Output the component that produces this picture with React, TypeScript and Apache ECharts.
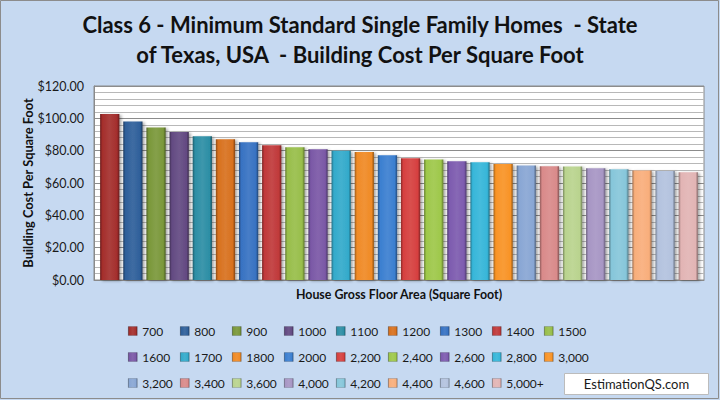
import React, { useEffect, useRef } from "react";
import * as echarts from "echarts";

const categories = [
  "700", "800", "900", "1000", "1100", "1200", "1300", "1400", "1500",
  "1600", "1700", "1800", "2000", "2,200", "2,400", "2,600", "2,800", "3,000",
  "3,200", "3,400", "3,600", "4,000", "4,200", "4,400", "4,600", "5,000+",
];

const costs = [
  102.7, 98.1, 94.4, 91.5, 88.9, 87.0, 85.2, 83.3, 82.1,
  80.8, 80.0, 79.2, 77.1, 75.3, 74.6, 73.4, 72.8, 71.8,
  70.9, 70.3, 70.2, 69.1, 68.5, 67.8, 67.4, 66.6,
];

const colors = [
  "#A42E2C", "#2E5F9A", "#7A983A", "#634A82", "#2C8EA5", "#D8711E", "#3772C2", "#C0393A", "#98BE4A",
  "#7A58A6", "#33AACB", "#F08A25", "#3B7FD0", "#D6403F", "#9EC84A", "#7D5BAF", "#36B6D9", "#F99326",
  "#88A6D4", "#D98A8A", "#B9D38E", "#A796C4", "#86C6DA", "#F8AE7B", "#B3C2DE", "#E2B4B4",
];

const yTicks = [0, 20, 40, 60, 80, 100, 120];

const titleText =
  "Class 6 - Minimum Standard Single Family Homes  - State\nof Texas, USA  - Building Cost Per Square Foot";
const yName = "Building Cost Per Square Foot";
const xName = "House Gross Floor Area (Square Foot)";
const watermark = "EstimationQS.com";

function shade(hex: string, f: number): string {
  const n = parseInt(hex.slice(1), 16);
  let r = (n >> 16) & 255, g = (n >> 8) & 255, b = n & 255;
  if (f < 0) {
    r = Math.round(r * (1 + f)); g = Math.round(g * (1 + f)); b = Math.round(b * (1 + f));
  } else {
    r = Math.round(r + (255 - r) * f); g = Math.round(g + (255 - g) * f); b = Math.round(b + (255 - b) * f);
  }
  return `rgb(${r},${g},${b})`;
}

function barColor(hex: string) {
  return new echarts.graphic.LinearGradient(0, 0, 1, 0, [
    { offset: 0, color: shade(hex, -0.35) },
    { offset: 0.12, color: hex },
    { offset: 0.5, color: shade(hex, 0.08) },
    { offset: 0.88, color: hex },
    { offset: 1, color: shade(hex, -0.4) },
  ]);
}

const FONT = "Lato, 'Open Sans', sans-serif";

export default function App() {
  const ref = useRef<HTMLDivElement>(null);
  useEffect(() => {
    if (!ref.current) return;
    const chart = echarts.init(ref.current, undefined, { renderer: "svg" });

    const series = categories.map((name, i) => ({
      name,
      type: "bar",
      data: [costs[i]],
      barGap: "20%",
      barCategoryGap: "2%",
      itemStyle: {
        color: barColor(colors[i]),
        shadowBlur: 3,
        shadowOffsetX: 2,
        shadowOffsetY: 1,
        shadowColor: "rgba(0,0,0,0.35)",
      },
    }));

    const legends = categories.map((name, i) => ({
      data: [name],
      left: 128 + (i % 9) * 52,
      top: 325 + Math.floor(i / 9) * 26,
      padding: 0,
      itemWidth: 9,
      itemHeight: 9,
      icon: "rect",
      itemStyle: { borderColor: "rgba(0,0,0,0.3)", borderWidth: 0.5 },
      textStyle: { fontFamily: FONT, fontSize: 12, color: "#1a1a1a" },
    }));

    chart.setOption({
      animation: false,
      backgroundColor: "#C6D9F1",
      legend: legends,
      grid: {
        left: 94,
        right: 16,
        top: 86,
        bottom: 120,
        show: true,
        backgroundColor: "#ffffff",
        borderColor: "#8a8a8a",
        borderWidth: 1,
      },
      xAxis: {
        type: "category",
        data: [""],
        axisLine: { lineStyle: { color: "#8a8a8a" } },
        axisTick: { show: false },
        axisLabel: { show: false },
        name: xName,
        nameLocation: "middle",
        nameGap: 8,
        nameTextStyle: {
          fontFamily: FONT,
          fontWeight: "bold",
          fontSize: 12.4,
          color: "#111",
          verticalAlign: "top",
        },
      },
      yAxis: {
        type: "value",
        min: yTicks[0],
        max: yTicks[yTicks.length - 1],
        interval: 20,
        axisLine: { show: true, lineStyle: { color: "#8a8a8a" } },
        axisTick: { show: false },
        axisLabel: {
          formatter: (v: number) => "$" + v.toFixed(2),
          fontFamily: FONT,
          fontSize: 12.5,
          color: "#1a1a1a",
          margin: 10,
        },
        splitLine: { show: true, lineStyle: { color: "#8c8c8c", width: 1 } },
        minorTick: { show: false, splitNumber: 5 },
        minorSplitLine: { show: true, lineStyle: { color: "#b8b8b8", width: 1 } },
        name: yName,
        nameLocation: "middle",
        nameRotate: 90,
        nameGap: 60,
        nameMoveOverlap: false,
        nameTextStyle: {
          fontFamily: FONT,
          fontWeight: "bold",
          fontSize: 12.8,
          color: "#111",
        },
      },
      series,
      graphic: [
        {
          type: "rect",
          shape: { x: 0.5, y: 0.5, width: 718, height: 398 },
          style: { fill: "none", stroke: "#8c8c8c", lineWidth: 1 },
          silent: true,
        },
        {
          type: "text",
          x: 360,
          y: 9.5,
          style: {
            text: titleText,
            fontFamily: FONT,
            fontWeight: "bold",
            fontSize: 22,
            lineHeight: 30,
            fill: "#111",
            align: "center",
            verticalAlign: "top",
          },
        },
        {
          type: "group",
          left: 564,
          top: 373,
          children: [
            {
              type: "rect",
              shape: { x: 0, y: 0, width: 144, height: 21 },
              style: { fill: "#ffffff", stroke: "#bcbcbc", lineWidth: 1 },
            },
            {
              type: "text",
              x: 72,
              y: 10.5,
              style: {
                text: watermark,
                fontFamily: FONT,
                fontSize: 13,
                fill: "#1a1a1a",
                align: "center",
                verticalAlign: "middle",
              },
            },
          ],
        },
      ],
    });
    return () => chart.dispose();
  }, []);
  return (
    <div
      ref={ref}
      style={{ position: "fixed", left: 0, top: 0, width: 720, height: 400 }}
    />
  );
}
